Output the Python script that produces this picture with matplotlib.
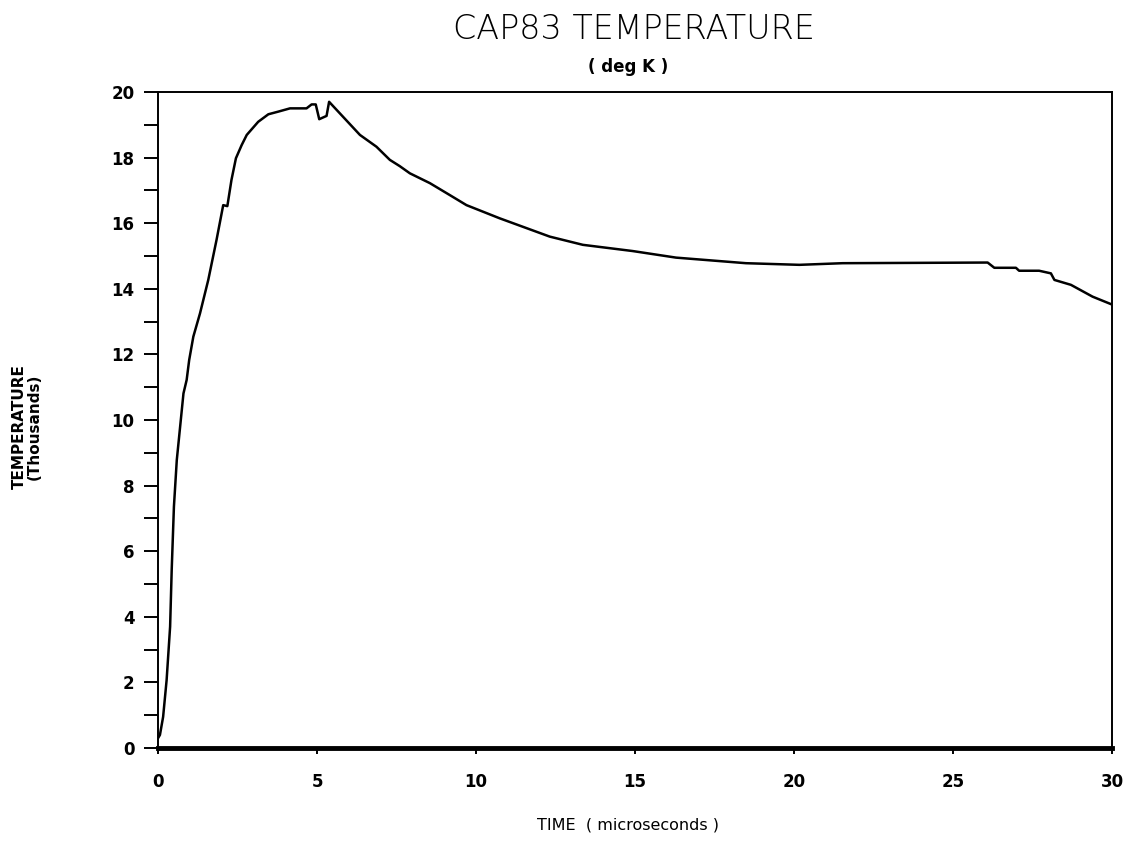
import matplotlib
matplotlib.use('Agg')
import matplotlib.pyplot as plt
import numpy as np

# time in microseconds, temperature in thousands of deg K
time_us = [0.0, 0.06, 0.16, 0.27, 0.38, 0.43, 0.50, 0.59, 0.80, 0.90, 0.98,
           1.11, 1.32, 1.58, 1.84, 2.05, 2.18, 2.31, 2.45, 2.63, 2.79, 3.15,
           3.47, 3.78, 4.15, 4.67, 4.83, 4.96, 5.07, 5.30, 5.38, 6.35, 6.87,
           7.29, 7.60, 7.92, 8.55, 9.17, 9.70, 10.74, 12.32, 13.36, 14.93,
           16.29, 18.49, 20.17, 21.53, 26.09, 26.30, 26.98, 27.08, 27.71,
           28.08, 28.19, 28.71, 29.39, 30.0]
temp_k = [0.30, 0.40, 0.95, 2.07, 3.70, 5.43, 7.36, 8.78, 10.81, 11.22, 11.83,
          12.54, 13.25, 14.27, 15.49, 16.55, 16.52, 17.32, 17.98, 18.38, 18.69,
          19.09, 19.32, 19.40, 19.50, 19.50, 19.62, 19.62, 19.17, 19.27, 19.70,
          18.69, 18.33, 17.93, 17.74, 17.52, 17.22, 16.86, 16.55, 16.15, 15.59,
          15.34, 15.15, 14.95, 14.78, 14.73, 14.78, 14.80, 14.64, 14.64, 14.55,
          14.55, 14.47, 14.27, 14.12, 13.76, 13.52]

x_ticks = [0, 5, 10, 15, 20, 25, 30]
y_ticks = [0, 2, 4, 6, 8, 10, 12, 14, 16, 18, 20]

fig = plt.figure(figsize=(11.32, 8.46), dpi=100)
ax = fig.add_axes([0.1396, 0.1158, 0.8427, 0.7755])

ax.plot(time_us, temp_k, color='black', lw=1.8)

ax.set_xlim(0, 30)
ax.set_ylim(0, 20)
ax.set_xticks(x_ticks)
ax.set_yticks(y_ticks)
ax.set_yticks(np.arange(1, 20, 2), minor=True)

for side in ['left', 'right', 'top']:
    ax.spines[side].set_linewidth(1.4)
ax.spines['bottom'].set_linewidth(3.5)

ax.tick_params(axis='y', which='both', direction='out', length=10, width=1.4,
               labelsize=12, pad=7)
ax.tick_params(axis='x', direction='out', length=4, width=1.4,
               labelsize=12, pad=14)
for lab in ax.get_xticklabels() + ax.get_yticklabels():
    lab.set_fontweight('bold')

fig.text(0.56, 0.965, 'CAP83 TEMPERATURE', ha='center', va='center',
         fontsize=24, fontweight='light')
fig.text(0.555, 0.921, '( deg K )', ha='center', va='center',
         fontsize=12, fontweight='bold')
fig.text(0.555, 0.025, 'TIME  ( microseconds )', ha='center', va='center',
         fontsize=11.5)
fig.text(0.024, 0.496, 'TEMPERATURE\n(Thousands)', ha='center', va='center',
         rotation=90, fontsize=11, fontweight='bold', linespacing=1.0)

fig.savefig('out.png', dpi=100)
